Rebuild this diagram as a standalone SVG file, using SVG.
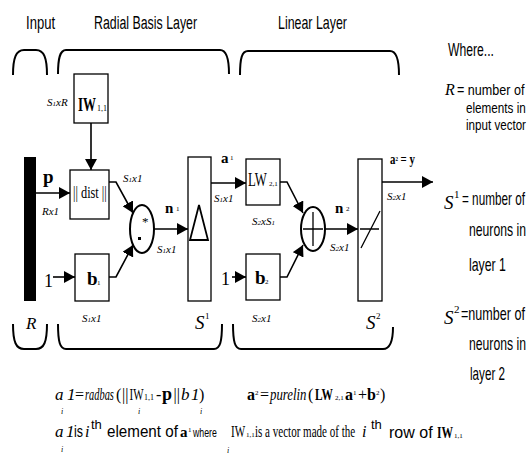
<svg xmlns="http://www.w3.org/2000/svg" width="531" height="459" viewBox="0 0 531 459">
<defs>
<marker id="ah" markerUnits="userSpaceOnUse" markerWidth="11" markerHeight="12" refX="11" refY="6" orient="auto"><path d="M0,0 L11,6 L0,12 z" fill="#000"/></marker>
<style>
.sans{font-family:"Liberation Sans",Arial,sans-serif;fill:#000}
.ser{font-family:"Liberation Serif","Times New Roman",serif;fill:#000}
.it{font-style:italic}
.bd{font-weight:bold}
.dim{font-family:"Liberation Serif","Times New Roman",serif;font-style:italic;font-size:11px;fill:#000}
.box{fill:#fff;stroke:#000;stroke-width:1.3}
.brace{fill:none;stroke:#000;stroke-width:2}
.con{fill:none;stroke:#000;stroke-width:1.6;marker-end:url(#ah)}
</style>
</defs>
<rect width="531" height="459" fill="#fff"/>

<g id="titles">
<text class="sans" font-size="18" transform="translate(26,29) scale(0.725,1)">Input</text>
<text class="sans" font-size="18" transform="translate(94,29) scale(0.687,1)">Radial Basis Layer</text>
<text class="sans" font-size="18" transform="translate(278,29) scale(0.69,1)">Linear Layer</text>
</g>

<g id="braces">
<path class="brace" d="M13,75 C13,58 16,50 24,50 L36,50 C44,50 47,58 47,75"/>
<path class="brace" d="M58,74 C58,58 60,50 66,50 L220,50 C226,50 229,58 229,74"/>
<path class="brace" d="M240,75 C240,58 242,51 248,51 L390,51 C396,51 399,58 399,75"/>
<path class="brace" d="M13,324 C13,342 16,349 24,349 L36,349 C44,349 47,342 47,324"/>
<path class="brace" d="M58,324 C58,342 60,349 66,349 L214,349 C220,349 222,342 222,324"/>
<path class="brace" d="M233,324 C233,342 235,349 241,349 L383,349 C389,349 393,342 393,327"/>
</g>

<g id="connectors">
<path class="con" d="M91,123 L91,170"/>
<path class="con" d="M36,193 L70,193"/>
<path class="con" d="M53,277 L75,277"/>
<path class="con" d="M109,182 L116,182 L133,213"/>
<path class="con" d="M109,277 L116,277 L133,245"/>
<path class="con" d="M154,229 L188,229"/>
<path class="con" d="M211,183 L246,183"/>
<path class="con" d="M232,277 L246,277"/>
<path class="con" d="M280,182 L287,182 L303,213"/>
<path class="con" d="M280,277 L287,277 L303,245"/>
<path class="con" d="M325,229 L358,229"/>
<path class="con" d="M382,182 L433,182"/>
</g>

<g id="input">
<rect x="24" y="157" width="12" height="144" fill="#000"/>
<text class="ser bd" x="43" y="183" font-size="19">p</text>
<text class="dim" x="42" y="215">Rx1</text>
<text class="ser it" x="26" y="329" font-size="17">R</text>
<text class="ser" x="44" y="287" font-size="18">1</text>
</g>

<g id="iw">
<rect class="box" x="74" y="74" width="34" height="49"/>
<text class="ser bd" font-size="19" transform="translate(78,111) scale(0.68,1)">IW</text>
<text class="ser" x="97" y="111" font-size="8">1,1</text>
<text class="dim" x="47" y="106">S<tspan font-size="7">1</tspan>xR</text>
</g>

<g id="dist">
<rect class="box" x="70" y="170" width="39" height="49"/>
<text class="ser" font-size="16" transform="translate(73,198) scale(0.77,1)">|| dist ||</text>
<text class="dim" x="123" y="182">S<tspan font-size="7">1</tspan>x1</text>
</g>

<g id="b1">
<rect class="box" x="75" y="254" width="34" height="47"/>
<text class="ser bd" x="87" y="285" font-size="19">b</text>
<text class="ser" x="97" y="285" font-size="7">1</text>
<text class="dim" x="82" y="322">S<tspan font-size="7">1</tspan>x1</text>
</g>

<g id="mult">
<ellipse cx="142" cy="229" rx="12" ry="24" fill="#fff" stroke="#000" stroke-width="2"/>
<text class="ser" x="142" y="226" font-size="13">*</text>
<rect x="138" y="237" width="3" height="3" fill="#000"/>
<text class="ser bd" x="165" y="213" font-size="15">n</text>
<text class="ser" x="176" y="211" font-size="7">1</text>
<text class="dim" x="157" y="253">S<tspan font-size="7">1</tspan>x1</text>
</g>

<g id="radbas">
<rect class="box" x="188" y="157" width="23" height="144"/>
<path d="M199,205 L190,240 L208,240 Z" fill="none" stroke="#000" stroke-width="1.8"/>
<text class="ser it" x="195" y="329" font-size="19">S</text>
<text class="ser" x="205" y="319" font-size="9">1</text>
<text class="ser bd" x="221" y="163" font-size="15">a</text>
<text class="ser" x="230" y="160" font-size="7">1</text>
<text class="dim" x="214" y="202">S<tspan font-size="7">1</tspan>x1</text>
</g>

<g id="lw">
<rect class="box" x="246" y="159" width="34" height="46"/>
<text class="ser" font-size="18" transform="translate(248,186) scale(0.71,1)">LW</text>
<text class="ser" x="269" y="186" font-size="7">2,1</text>
<text class="dim" x="252" y="225">S<tspan font-size="7">2</tspan>xS<tspan font-size="7">1</tspan></text>
</g>

<g id="b2">
<rect class="box" x="246" y="254" width="34" height="46"/>
<text class="ser bd" x="255" y="284" font-size="19">b</text>
<text class="ser" x="265" y="284" font-size="7">2</text>
<text class="ser" x="221" y="285" font-size="18">1</text>
<text class="dim" x="252" y="322">S<tspan font-size="7">2</tspan>x1</text>
</g>

<g id="sum">
<ellipse cx="313" cy="229" rx="12" ry="22" fill="#fff" stroke="#000" stroke-width="2"/>
<path d="M303,229 L323,229 M313,212 L313,246" stroke="#000" stroke-width="1.3"/>
<text class="ser bd" x="335" y="213" font-size="15">n</text>
<text class="ser" x="346" y="211" font-size="7">2</text>
<text class="dim" x="330" y="251">S<tspan font-size="7">2</tspan>x1</text>
</g>

<g id="purelin">
<rect class="box" x="358" y="159" width="24" height="142"/>
<path d="M360,229 L379,229 M361,248 L380,211" stroke="#000" stroke-width="1.3"/>
<text class="ser it" x="366" y="329" font-size="19">S</text>
<text class="ser" x="376" y="319" font-size="9">2</text>
<text class="ser bd" font-size="15" transform="translate(390,164) scale(0.72,1)">a<tspan font-size="7" dy="-3">2</tspan><tspan dy="3"> = y</tspan></text>
<text class="dim" x="387" y="200">S<tspan font-size="7">2</tspan>x1</text>
</g>

<g id="legend">
<text class="sans" font-size="18" transform="translate(448,56) scale(0.676,1)">Where...</text>
<text class="ser it" x="445" y="95" font-size="16">R</text>
<text class="sans" font-size="15" transform="translate(457,95) scale(0.84,1)">= number of</text>
<text class="sans" font-size="15" transform="translate(466,113) scale(0.78,1)">elements in</text>
<text class="sans" font-size="15" transform="translate(466,130) scale(0.774,1)">input vector</text>
<text class="ser it" x="444" y="209" font-size="19">S</text>
<text class="ser" x="454" y="198" font-size="11">1</text>
<text class="sans" font-size="18" transform="translate(462,205) scale(0.652,1)">= number of</text>
<text class="sans" font-size="18" transform="translate(469,236) scale(0.678,1)">neurons in</text>
<text class="sans" font-size="18" transform="translate(469,271) scale(0.685,1)">layer 1</text>
<text class="ser it" x="444" y="324" font-size="19">S</text>
<text class="ser" x="454" y="313" font-size="11">2</text>
<text class="sans" font-size="18" transform="translate(461,320) scale(0.7,1)">=number of</text>
<text class="sans" font-size="18" transform="translate(469,350) scale(0.678,1)">neurons in</text>
<text class="sans" font-size="18" transform="translate(470,380) scale(0.648,1)">layer 2</text>
</g>

<g id="formulas">
<text class="ser it" x="55" y="400" font-size="17">a</text>
<text class="ser it" x="67" y="400" font-size="17">1</text>
<text class="ser it" x="61" y="414" font-size="8">i</text>
<text class="ser" x="75" y="400" font-size="16">=</text>
<text class="ser it" font-size="16" transform="translate(85,400) scale(0.65,1)">radbas</text>
<text class="ser" x="116" y="400" font-size="16">(</text>
<text class="ser" x="122" y="400" font-size="16">||</text>
<text class="ser" font-size="17" transform="translate(129.5,400) scale(0.645,1)">IW</text>
<text class="ser" x="144" y="400" font-size="8">1,1</text>
<text class="ser it" x="138" y="414" font-size="8">i</text>
<text class="ser" x="156" y="400" font-size="16">-</text>
<text class="ser bd" x="162" y="400" font-size="18">p</text>
<text class="ser" x="173.5" y="400" font-size="16">||</text>
<text class="ser it" x="181" y="400" font-size="17">b</text>
<text class="ser it" x="191" y="400" font-size="17">1</text>
<text class="ser it" x="200" y="414" font-size="8">i</text>
<text class="ser" x="199" y="400" font-size="16">)</text>

<text class="ser bd" x="247" y="400" font-size="16">a</text>
<text class="ser" x="255" y="395" font-size="7">2</text>
<text class="ser" x="260" y="400" font-size="16">=</text>
<text class="ser it" font-size="16" transform="translate(270,400) scale(0.8,1)">purelin</text>
<text class="ser" x="308" y="400" font-size="16">(</text>
<text class="ser bd" font-size="17" transform="translate(315,400) scale(0.67,1)">LW</text>
<text class="ser" x="335" y="400" font-size="7">2,1</text>
<text class="ser bd" x="345" y="400" font-size="16">a</text>
<text class="ser" x="353" y="395" font-size="7">1</text>
<text class="ser" x="358" y="400" font-size="16">+</text>
<text class="ser bd" x="367" y="400" font-size="16">b</text>
<text class="ser" x="376" y="395" font-size="7">2</text>
<text class="ser" x="380" y="400" font-size="16">)</text>

<text class="ser it" x="55" y="437" font-size="17">a</text>
<text class="ser it" x="66" y="437" font-size="17">1</text>
<text class="ser it" x="61" y="452" font-size="8">i</text>
<text class="sans" font-size="16" transform="translate(74,437) scale(0.78,1)">is</text>
<text class="ser it" x="85" y="437" font-size="16">i</text>
<text class="sans" x="91" y="429" font-size="13">th</text>
<text class="sans" font-size="16" transform="translate(107,437) scale(0.95,1)">element of</text>
<text class="ser bd" x="180" y="437" font-size="15">a</text>
<text class="ser" x="188" y="432" font-size="7">1</text>
<text class="sans" font-size="12" transform="translate(193,437) scale(0.73,1)">where</text>
<text class="ser it" x="227" y="453" font-size="8">i</text>
<text class="ser" font-size="16" transform="translate(231,437) scale(0.69,1)">IW</text>
<text class="ser" x="246" y="437" font-size="7">1,1</text>
<text class="ser" font-size="16" transform="translate(255,437) scale(0.69,1)">is a vector made of the</text>
<text class="ser it" x="362" y="437" font-size="16">i</text>
<text class="sans" x="371" y="429" font-size="13">th</text>
<text class="sans" x="389" y="438" font-size="16">row of</text>
<text class="ser bd" font-size="16" transform="translate(437,438) scale(0.72,1)">IW</text>
<text class="ser" x="454" y="438" font-size="7">1,1</text>
</g>
</svg>
